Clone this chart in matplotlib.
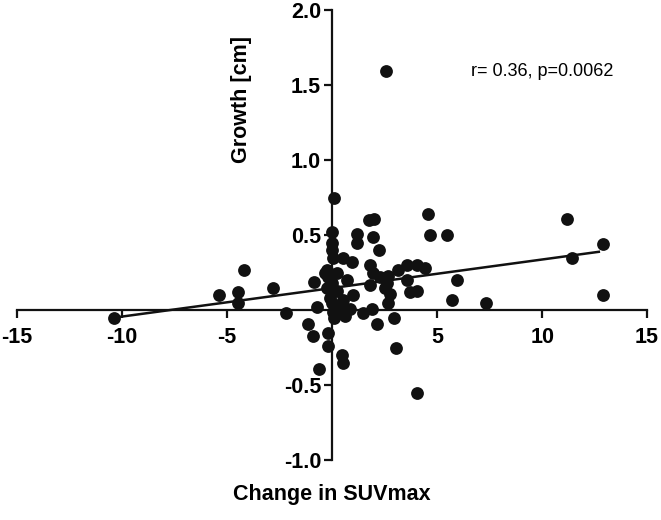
import matplotlib
matplotlib.use("Agg")
import matplotlib.pyplot as plt
import numpy as np

# values (Change in SUVmax vs Growth [cm])
suv_change = [-10.4, -5.4, -4.5, -4.5, -4.2, -2.8, -2.2, -0.86, -0.7, -1.15,
              -0.9, -0.2, -0.2, -0.65, -0.33, -0.25, -0.2,
              0.1, 0.0, 0.0, 0.0, 0.05, -0.24, 0.24, 0.24, 0.0, 0.05, 0.0,
              -0.1, 0.1, 0.38, 0.52, 0.62, 0.5, 0.93, 0.48, 0.52, 1.0, 0.86, 0.7,
              1.2, 1.2, 1.76, 2.0, 1.95, 2.24, 1.8, 1.95, 1.8, 2.3, 2.6, 2.5,
              2.76, 2.67, 1.48, 1.9, 2.14, 2.95, 3.05, 3.14, 3.57, 4.05, 4.4,
              3.57, 3.7, 4.05, 4.05, 4.55, 4.65, 5.45, 5.95, 5.7, 7.35,
              11.2, 11.4, 12.9, 12.9, 2.57, 2.67]
growth = [-0.05, 0.10, 0.12, 0.045, 0.27, 0.15, -0.02, 0.19, 0.02, -0.09,
          -0.17, -0.15, -0.24, -0.39, 0.25, 0.27, 0.22,
          0.75, 0.52, 0.45, 0.40, 0.35, 0.15, 0.25, 0.13, 0.05, -0.01, 0.18,
          0.08, -0.05, 0.01, 0.07, -0.04, 0.35, 0.32, -0.30, -0.35, 0.10, 0.01, 0.20,
          0.51, 0.45, 0.60, 0.61, 0.49, 0.40, 0.30, 0.25, 0.17, 0.22, 0.18, 0.15,
          0.11, 0.05, -0.02, 0.01, -0.09, -0.05, -0.25, 0.27, 0.30, 0.30, 0.28,
          0.20, 0.12, 0.13, -0.55, 0.64, 0.50, 0.50, 0.20, 0.07, 0.05,
          0.61, 0.35, 0.44, 0.10, 1.59, 0.23]

fit_slope = 0.019
fit_intercept = 0.147
stats_text = "r= 0.36, p=0.0062"

x_ticks = [-15, -10, -5, 5, 10, 15]
y_ticks = [-1.0, -0.5, 0.5, 1.0, 1.5, 2.0]

plt.rcParams['font.family'] = ['Liberation Sans', 'DejaVu Sans']

fig = plt.figure(figsize=(6.61, 5.2), dpi=100)
ax = fig.add_axes([0.026, 0.115, 0.953, 0.866])

ax.scatter(suv_change, growth, s=85, color='#111111', zorder=3, linewidths=0)

xs = np.array([min(suv_change), 12.7])
ax.plot(xs, fit_intercept + fit_slope * xs, color='#111111', linewidth=1.8, zorder=2)

ax.set_xlim(-15, 15)
ax.set_ylim(-1.0, 2.0)
ax.spines['left'].set_position(('data', 0))
ax.spines['bottom'].set_position(('data', 0))
ax.spines['top'].set_visible(False)
ax.spines['right'].set_visible(False)
for sp in ('left', 'bottom'):
    ax.spines[sp].set_linewidth(1.6)
    ax.spines[sp].set_color('#111111')

ax.set_xticks(x_ticks)
ax.set_xticklabels([str(t) for t in x_ticks])
ax.set_yticks(y_ticks)
ax.set_yticklabels([f"{t:.1f}" for t in y_ticks])
ax.tick_params(axis='both', direction='out', length=6, width=1.6, color='#111111',
               labelsize=15.5)
ax.tick_params(axis='x', pad=6)
ax.tick_params(axis='y', pad=2)
for lbl in ax.get_xticklabels() + ax.get_yticklabels():
    lbl.set_fontweight('bold')

ax.text(0, -1.23, "Change in SUVmax", ha='center', va='center', fontsize=15.5,
        fontweight='bold')
ax.text(-4.3, 1.4, "Growth [cm]", ha='center', va='center', rotation=90,
        fontsize=15.5, fontweight='bold')
ax.text(6.6, 1.59, stats_text, ha='left', va='center', fontsize=13)

fig.savefig("out.png", dpi=100)
